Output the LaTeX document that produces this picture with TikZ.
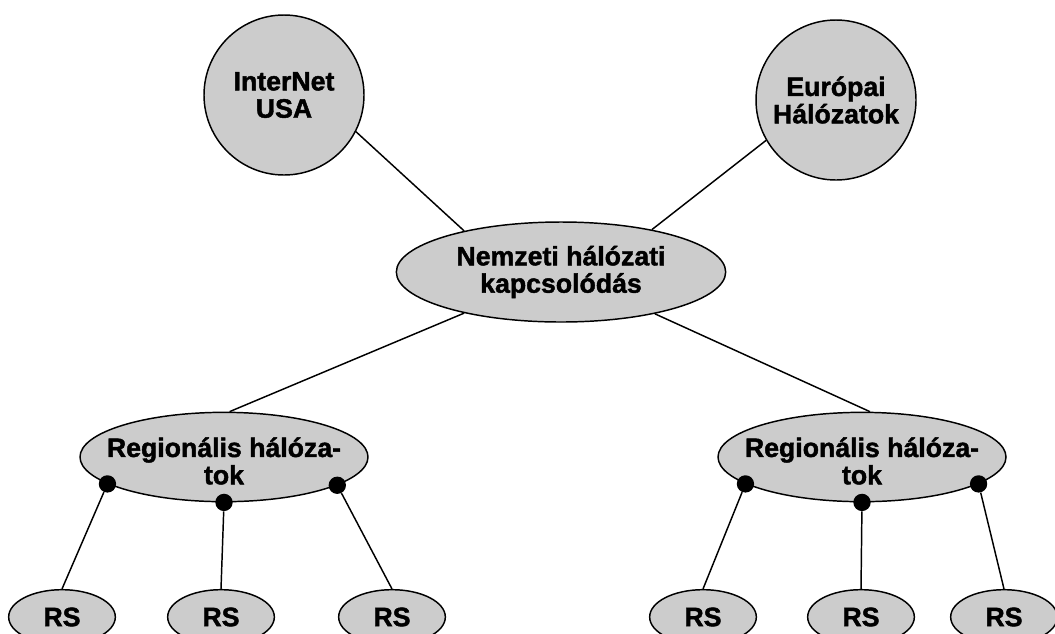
\documentclass[tikz,border=0pt]{standalone}
\usepackage{fontspec}
\setmainfont{Liberation Sans}[BoldFeatures={FakeBold=1.6}]
\usetikzlibrary{shapes.geometric}
\begin{document}
\begin{tikzpicture}[x=0.75pt,y=-0.75pt,
  bub/.style={ellipse, draw, line width=1.1pt, fill=black!20, inner sep=0pt},
  circ/.style={circle, draw, line width=1.1pt, fill=black!20, inner sep=0pt, minimum size=120pt},
  natl/.style={bub, minimum width=247pt, minimum height=75pt},
  regl/.style={bub, minimum width=216pt, minimum height=67pt},
  rsn/.style={bub, minimum width=80pt, minimum height=41pt, font=\bfseries\fontsize{20pt}{21pt}\selectfont},
  txt/.style={align=center, inner sep=0pt, font=\bfseries\fontsize{20pt}{20.5pt}\selectfont},
  dotn/.style={circle, fill=black, inner sep=0pt, minimum size=13pt},
  con/.style={line width=1.1pt}]
\useasboundingbox (0,0) rectangle (1055,633);
\clip (0,0) rectangle (1055,633);
\fill[white] (0,0) rectangle (1055,633);

% nodes
\node[circ, label={[txt]center:InterNet\\USA}] (usa) at (284,95) {};
\node[circ, label={[txt]center:Európai\\Hálózatok}] (eur) at (836,100) {};
\node[natl, label={[txt]center:Nemzeti hálózati\\kapcsolódás}] (nat) at (561,272) {};
\node[regl, label={[txt,yshift=-3pt]center:Regionális hálóza-\\tok}] (r1) at (224,457) {};
\node[regl, label={[txt,yshift=-3pt]center:Regionális hálóza-\\tok}] (r2) at (862,457) {};

\node[rsn] (s11) at (62,617) {RS};
\node[rsn] (s12) at (221,617) {RS};
\node[rsn] (s13) at (392,617) {RS};
\node[rsn] (s21) at (703,617) {RS};
\node[rsn] (s22) at (861,617) {RS};
\node[rsn] (s23) at (1004,617) {RS};

% connectors
\draw[con] (usa.-27) -- (nat.157);
\draw[con] (eur.210) -- (nat.25);
\draw[con] (nat.203) -- (r1.83);
\draw[con] (nat.336) -- (r2.80);

\node[dotn] (d11) at (r1.193) {};
\node[dotn] (d12) at (r1.270) {};
\node[dotn] (d13) at (r1.346) {};
\node[dotn] (d21) at (r2.193) {};
\node[dotn] (d22) at (r2.270) {};
\node[dotn] (d23) at (r2.347) {};

\draw[con] (d11) -- (s11.north);
\draw[con] (d12) -- (s12.north);
\draw[con] (d13) -- (s13.north);
\draw[con] (d21) -- (s21.north);
\draw[con] (d22) -- (s22.north);
\draw[con] (d23) -- (s23.north);
\end{tikzpicture}
\end{document}
